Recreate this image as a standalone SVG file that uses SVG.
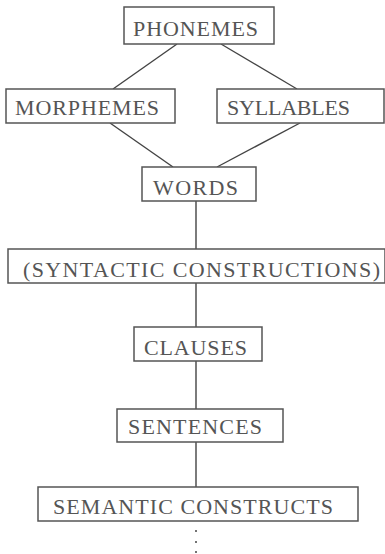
<svg xmlns="http://www.w3.org/2000/svg" width="385" height="554" viewBox="0 0 385 554">
<style>
.box{fill:#fff;stroke:#555;stroke-width:1.5}
.lbl{font-family:"Liberation Serif","Times New Roman",serif;font-size:22px;fill:#555;}
.conn line{stroke:#444;stroke-width:1.4}
.dot{fill:#444}
</style>
<rect width="385" height="554" fill="#fff"/>
<g id="connectors" class="conn">
<line x1="177" y1="44" x2="113" y2="89"/>
<line x1="221" y1="44" x2="297" y2="89"/>
<line x1="110" y1="123" x2="173" y2="167"/>
<line x1="300" y1="123" x2="217" y2="167"/>
<line x1="196" y1="201" x2="196" y2="249"/>
<line x1="196" y1="283" x2="196" y2="327"/>
<line x1="196" y1="361" x2="196" y2="409"/>
<line x1="196" y1="442" x2="196" y2="487"/>
<circle class="dot" cx="196" cy="531" r="1"/>
<circle class="dot" cx="196" cy="542" r="1"/>
<circle class="dot" cx="196" cy="552" r="1"/>
</g>
<g id="phonemes"><rect class="box" x="124" y="7" width="150" height="37"/><text class="lbl" x="133" y="36" textLength="125" lengthAdjust="spacing">PHONEMES</text></g>
<g id="morphemes"><rect class="box" x="6" y="89" width="169" height="34"/><text class="lbl" x="15" y="115" textLength="144" lengthAdjust="spacing">MORPHEMES</text></g>
<g id="syllables"><rect class="box" x="217" y="89" width="167" height="34"/><text class="lbl" x="227" y="115" textLength="123" lengthAdjust="spacing">SYLLABLES</text></g>
<g id="words"><rect class="box" x="142" y="167" width="114" height="34"/><text class="lbl" x="153" y="195" textLength="85" lengthAdjust="spacing">WORDS</text></g>
<g id="syntactic"><rect class="box" x="8" y="249" width="377" height="34"/><text class="lbl" x="23" y="277" textLength="357" lengthAdjust="spacing">(SYNTACTIC CONSTRUCTIONS)</text></g>
<g id="clauses"><rect class="box" x="134" y="327" width="128" height="34"/><text class="lbl" x="144" y="355" textLength="103" lengthAdjust="spacing">CLAUSES</text></g>
<g id="sentences"><rect class="box" x="117" y="409" width="166" height="33"/><text class="lbl" x="128" y="434" textLength="134" lengthAdjust="spacing">SENTENCES</text></g>
<g id="semantic"><rect class="box" x="38" y="487" width="320" height="34"/><text class="lbl" x="53" y="514" textLength="280" lengthAdjust="spacing">SEMANTIC CONSTRUCTS</text></g>
</svg>
